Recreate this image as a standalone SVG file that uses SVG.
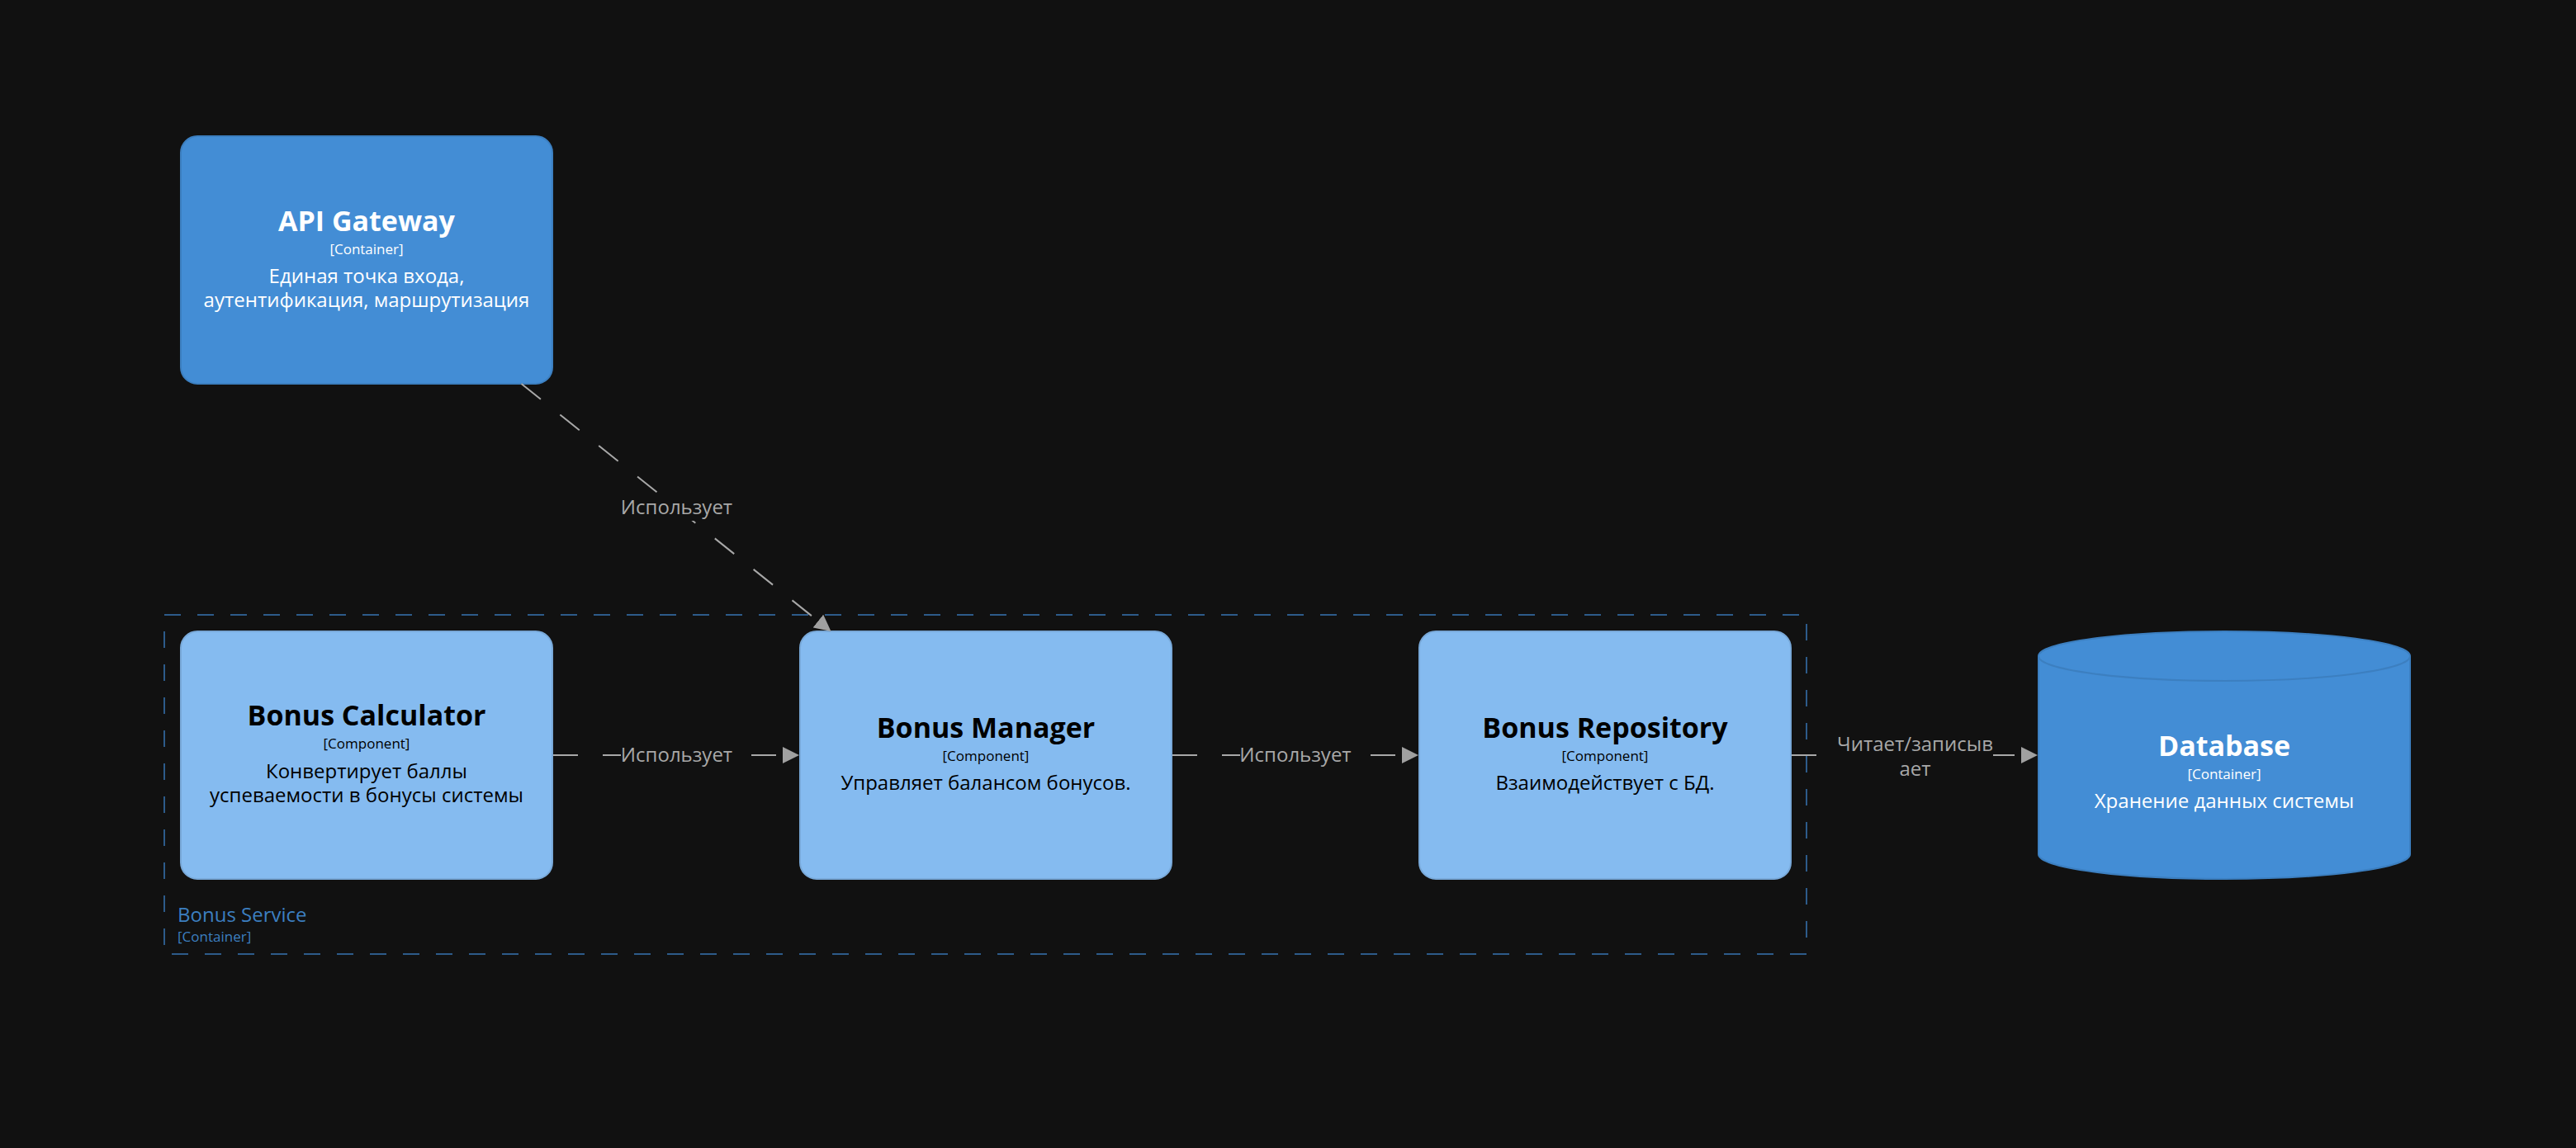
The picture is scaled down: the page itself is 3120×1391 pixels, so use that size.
<svg xmlns="http://www.w3.org/2000/svg" width="3120" height="1391" viewBox="0 0 3120 1391">
<style>
text { font-family: "Open Sans", "Noto Sans", "Liberation Sans", sans-serif; text-anchor: middle; }
.container { fill: #438DD5; stroke: #3C7FC0; stroke-width: 2; }
.component { fill: #85BBF0; stroke: #78A8D8; stroke-width: 2; }
.title { font-size: 34px; font-weight: bold; }
.meta { font-size: 17px; }
.desc { font-size: 24px; }
.light { fill: #FFFFFF; }
.dark { fill: #000000; }
.edge { fill: none; stroke: #A8A8A8; stroke-width: 2; stroke-dasharray: 30 30; marker-end: url(#arrow); }
.elabel { font-size: 24px; fill: #A8A8A8; }
.lbg { fill: #111111; }
.boundary { fill: none; stroke: #2D5B8A; stroke-width: 2; stroke-dasharray: 20 20; }
.btext { fill: #3C7FC0; text-anchor: start; }
</style>
<defs>
<marker id="arrow" markerUnits="userSpaceOnUse" markerWidth="20" markerHeight="20" refX="0" refY="10" orient="auto">
<path d="M0,0 L20,10 L0,20 Z" fill="#A0A0A0"/>
</marker>
</defs>
<rect x="0" y="0" width="3120" height="1391" fill="#111111"/>

<g id="boundary-bonus-service">
<rect class="boundary" x="199" y="745" width="1989" height="411"/>
<text class="btext" x="215" y="1117" font-size="24">Bonus Service</text>
<text class="btext" x="215" y="1141" font-size="17">[Container]</text>
</g>

<g id="api-gateway">
<rect class="container" x="219" y="165" width="450" height="300" rx="20" ry="20"/>
<text class="title light" x="444" y="280">API Gateway</text>
<text class="meta light" x="444" y="308">[Container]</text>
<text class="desc light" x="444" y="343">Единая точка входа,</text>
<text class="desc light" x="444" y="372">аутентификация, маршрутизация</text>
</g>

<g id="bonus-calculator">
<rect class="component" x="219" y="765" width="450" height="300" rx="20" ry="20"/>
<text class="title dark" x="444" y="879">Bonus Calculator</text>
<text class="meta dark" x="444" y="907">[Component]</text>
<text class="desc dark" x="444" y="943">Конвертирует баллы</text>
<text class="desc dark" x="444" y="972">успеваемости в бонусы системы</text>
</g>

<g id="bonus-manager">
<rect class="component" x="969" y="765" width="450" height="300" rx="20" ry="20"/>
<text class="title dark" x="1194" y="894">Bonus Manager</text>
<text class="meta dark" x="1194" y="922">[Component]</text>
<text class="desc dark" x="1194" y="957">Управляет балансом бонусов.</text>
</g>

<g id="bonus-repository">
<rect class="component" x="1719" y="765" width="450" height="300" rx="20" ry="20"/>
<text class="title dark" x="1944" y="894">Bonus Repository</text>
<text class="meta dark" x="1944" y="922">[Component]</text>
<text class="desc dark" x="1944" y="957">Взаимодействует с БД.</text>
</g>

<g id="database">
<path class="container" d="M2469,795 A225,30 0 0 1 2919,795 L2919,1035 A225,30 0 0 1 2469,1035 Z"/>
<path d="M2469,795 A225,30 0 0 0 2919,795" fill="none" stroke="#3C7FC0" stroke-width="2"/>
<text class="title light" x="2694" y="916">Database</text>
<text class="meta light" x="2694" y="944">[Container]</text>
<text class="desc light" x="2694" y="979">Хранение данных системы</text>
</g>

<g id="connectors">
<path class="edge" d="M631.5,465 L990.9,752.5"/>
<rect class="lbg" x="752" y="600" width="135" height="31"/>
<text class="elabel" x="819.5" y="623">Использует</text>

<path class="edge" d="M670,915 L948,915"/>
<rect class="lbg" x="752" y="900" width="135" height="31"/>
<text class="elabel" x="819.5" y="923">Использует</text>

<path class="edge" d="M1420,915 L1698,915"/>
<rect class="lbg" x="1502" y="900" width="135" height="31"/>
<text class="elabel" x="1569" y="923">Использует</text>

<path class="edge" d="M2170,915 L2448,915"/>
<rect class="lbg" x="2225" y="887" width="189" height="61"/>
<text class="elabel" x="2319.5" y="910">Читает/записыв</text>
<text class="elabel" x="2319.5" y="940">ает</text>
</g>
</svg>
